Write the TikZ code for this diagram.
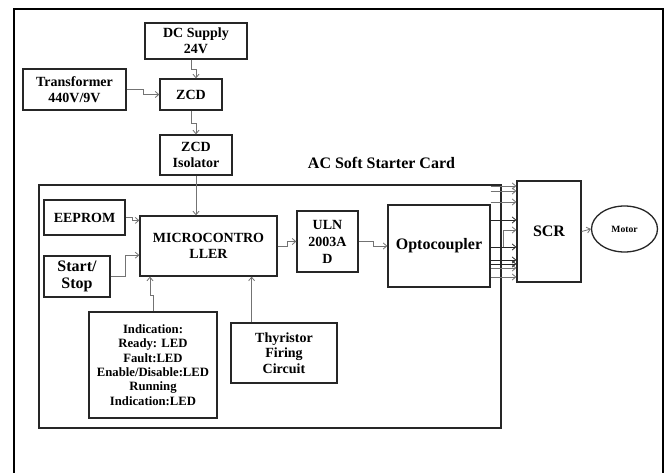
\documentclass[tikz,border=0pt]{standalone}
\usepackage{fontspec}
\setmainfont{Liberation Serif}
\usetikzlibrary{arrows.meta,calc,shapes.geometric}
\begin{document}
\begin{tikzpicture}[x=1pt,y=-1pt,
 box/.style={draw=black!85,line width=1.3pt,align=center,inner sep=0pt,font=\bfseries\fontsize{14}{16}\selectfont},
 conn/.style={draw=black!55,line width=0.8pt,-{Straight Barb[length=3.5pt,width=6pt]}},
 dconn/.style={conn,draw=black!85},
 plain/.style={draw=black!55,line width=0.8pt}]
\useasboundingbox (0,0) rectangle (666,473);
\fill[white] (0,0) rectangle (666,473);
\coordinate (fbl) at (14,473);
\coordinate (ftl) at (14,9);
\coordinate (ftr) at (663,9);
\coordinate (fbr) at (663,473);
\draw[line width=1.8pt] (fbl) -- (ftl) -- (ftr) -- (fbr);

\node[box,line width=1.4pt,minimum width=462pt,minimum height=243pt] (card) at (270,306.5) {};
\node[font=\bfseries\fontsize{16}{18}\selectfont] (cardlbl) at (381.5,163) {AC Soft Starter Card};

\node[box,minimum width=102pt,minimum height=36pt] (dc) at (196,41) {DC Supply\\24V};
\node[box,minimum width=103pt,minimum height=41pt] (trans) at (74.5,89.5) {Transformer\\440V/9V};
\node[box,minimum width=62pt,minimum height=31pt] (zcd) at (191,94.5) {ZCD};
\node[box,minimum width=72pt,minimum height=40pt] (iso) at (196,155) {ZCD\\Isolator};
\node[box,minimum width=81pt,minimum height=35pt] (eeprom) at (84.5,217.5) {EEPROM};
\node[box,minimum width=137pt,minimum height=60pt] (mcu) at (208.5,246) {MICROCONTRO\\LLER};
\node[box,minimum width=61pt,minimum height=61pt,font=\bfseries\fontsize{14}{17}\selectfont] (uln) at (327.5,241.5) {ULN\\2003A\\D};
\node[box,minimum width=102pt,minimum height=82pt,font=\bfseries\fontsize{16}{18}\selectfont] (opto) at (439,246) {Optocoupler};
\node[box,minimum width=64pt,minimum height=101pt,font=\bfseries\fontsize{16}{18}\selectfont] (scr) at (549,231.5) {SCR};
\node[ellipse,draw=black!85,line width=1.3pt,minimum width=66pt,minimum height=46pt,inner sep=0pt,font=\bfseries\fontsize{9.6}{11}\selectfont] (motor) at (624.5,229) {Motor};
\node[box,minimum width=66pt,minimum height=41pt,font=\bfseries\fontsize{16}{17}\selectfont] (start) at (77,276.5) {Start/\\Stop};
\node[box,minimum width=128pt,minimum height=106pt,font=\bfseries\fontsize{12.7}{14.4}\selectfont] (ind) at (153,365) {Indication:\\Ready: LED\\Fault:LED\\Enable/Disable:LED\\Running\\Indication:LED};
\node[box,minimum width=106pt,minimum height=60pt,font=\bfseries\fontsize{14}{15.5}\selectfont] (thy) at (284,353) {Thyristor\\Firing\\Circuit};

% top chain
\draw[conn] ([xshift=-5pt]dc.south) -- ++(0,10) -| ([xshift=5pt]zcd.north);
\draw[conn] (trans.east) -- ++(17,0) |- (zcd.west);
\draw[conn] (zcd.south) -- ++(0,13) -| (iso.north);
\draw[conn] (iso.south) -- (iso.south |- mcu.north);

% inputs to MCU
\draw[conn] (eeprom.east) -- ++(7,0) |- ($(mcu.north west)!0.083!(mcu.south west)$);
\draw[conn] (start.east) -- ++(15,0) |- ($(mcu.north west)!0.65!(mcu.south west)$);
\draw[conn] (ind.north) -- ++(0,-16) -- ++(-3,0) coordinate (q) -- (q |- mcu.south);
\coordinate (thyup) at ($(thy.north west)!0.198!(thy.north east)$);
\draw[conn] (thyup) -- (thyup |- mcu.south);

% MCU -> ULN -> Opto
\draw[conn] (mcu.east) -- ++(10,0) |- (uln.west);
\draw[conn] (uln.east) -- ++(15,0) |- (opto.west);

% Opto -> SCR
\foreach \yy in {186,191,202,268,277}
  \draw[conn] (opto.east |- 0,\yy) -- (scr.west |- 0,\yy);
\foreach \yy in {220,247,260,264}
  \draw[dconn] (opto.east |- 0,\yy) -- (scr.west |- 0,\yy);
\coordinate (jog) at ($(card.east |- 0,247)+(2,0)$);
\draw[conn] (jog) -- (jog |- 0,230) -- (scr.west |- 0,230);

% SCR -> Motor
\draw[conn] (scr.east) -- (motor.west);
\end{tikzpicture}
\end{document}
